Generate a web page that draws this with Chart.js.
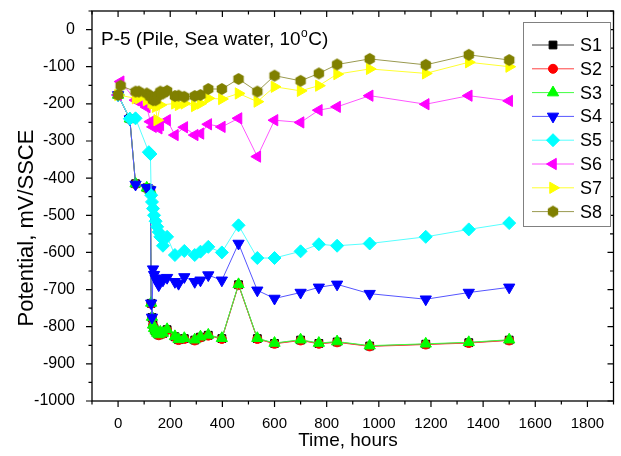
<!DOCTYPE html>
<html>
<head>
<meta charset="utf-8">
<script src="https://cdn.jsdelivr.net/npm/chart.js@4.4.0/dist/chart.umd.min.js"></script>
<style>
  html, body { margin: 0; padding: 0; background: #fff; }
  #wrap { width: 621px; height: 456px; }
</style>
</head>
<body>
<div id="wrap"><canvas id="potChart"></canvas></div>
<script>
// time, hours (shared by all series; null = no reading for that series)
var hours = [0, 10, 45, 67, 80, 110, 118, 124, 127, 130, 134, 138, 144, 150, 156, 162, 172, 188, 218, 232, 254, 294, 316, 346, 398, 462, 534, 600, 700, 770, 840, 965, 1180, 1345, 1500];

// potential, mV/SSCE
var s1 = [-176, null, -240, -415, null, -426, null, -432, -737, -775, -796, -805, -812, -818, -822, -815, -818, -808, -827, -835, -832, -836, -828, -823, -832, -687, -832, -845, -836, -845, -841, -852, -847, -843, -836];
var s2 = [-177, null, -241, -416, null, -427, null, -433, -738, -776, -797, -806, -813, -819, -823, -816, -819, -809, -828, -836, -833, -837, -829, -824, -833, -688, -833, -846, -837, -846, -842, -853, -848, -844, -837];
var s3 = [-176, null, -240, -415, null, -426, null, -432, -736, -774, -795, -804, -811, -817, -821, -814, -817, -807, -826, -834, -831, -835, -827, -822, -831, -686, -831, -844, -835, -844, -840, -851, -846, -842, -835];
var s4 = [-176, null, -241, -417, null, -426, null, -432, -737, -775, -645, -660, -670, -679, -688, -670, -675, -668, -679, -684, -666, -679, -675, -661, -675, -576, -702, -724, -708, -694, -686, -711, -726, -708, -694];
var s5 = [-176, null, -240, -239, null, null, -330, -335, -446, -464, -482, -500, -516, -531, -545, -558, -582, -558, -607, null, -596, -607, -598, -585, -600, -527, -615, -615, -597, -578, -582, -576, -558, -538, -521];
var s6 = [-176, -140, null, -190, -194, -209, null, -248, null, null, -262, null, null, null, -266, -257, null, -244, -284, null, -263, -284, -280, -255, -262, -239, -342, -244, -250, -217, -208, -178, -201, -178, -192];
var s7 = [-176, null, null, -185, -185, -190, null, null, -196, null, -200, null, -208, -244, null, -203, null, null, -199, -203, -199, -206, -199, -185, -187, -172, -194, -154, -165, -151, -120, -106, -118, -88, -100];
var s8 = [-176, -151, null, -167, -167, -172, null, -181, null, -181, -190, -185, -190, -180, -175, -167, -172, -165, -179, -178, -181, -179, -176, -160, -160, -133, -167, -124, -138, -118, -94, -79, -95, -68, -82];

var seriesNames = ['S1', 'S2', 'S3', 'S4', 'S5', 'S6', 'S7', 'S8'];
var xTickLabels = [0, 200, 400, 600, 800, 1000, 1200, 1400, 1600, 1800];
var yTickLabels = [0, -100, -200, -300, -400, -500, -600, -700, -800, -900, -1000];

var FONT = 'Arial, "Liberation Sans", sans-serif';

// hexagon marker for S8 (no built-in style)
function hexImage(r, color) {
  var c = document.createElement('canvas');
  var s = Math.ceil(r * 2) + 2;
  c.width = s; c.height = s;
  var g = c.getContext('2d');
  g.fillStyle = color;
  g.beginPath();
  for (var k = 0; k < 6; k++) {
    var a = Math.PI / 3 * k - Math.PI / 2;
    var px = s / 2 + r * Math.cos(a), py = s / 2 + r * Math.sin(a);
    if (k === 0) g.moveTo(px, py); else g.lineTo(px, py);
  }
  g.closePath();
  g.fill();
  return c;
}

function toPoints(vals) {
  return hours.map(function(h, i) { return { x: h, y: vals[i] }; });
}

var styles = [
  { line: '#404040', fill: '#000000', style: 'rect', rot: 0, r: 5.5 },
  { line: '#ff4040', fill: '#ff0000', style: 'circle', rot: 0, r: 4.5 },
  { line: '#40ff40', fill: '#00ff00', style: 'triangle', rot: 0, r: 6.5 },
  { line: '#5555ff', fill: '#0000ff', style: 'triangle', rot: 180, r: 6.5 },
  { line: '#55ffff', fill: '#00ffff', style: 'rectRot', rot: 0, r: 6.5 },
  { line: '#ff55ff', fill: '#ff00ff', style: 'triangle', rot: 270, r: 6.5 },
  { line: '#ffff30', fill: '#ffff00', style: 'triangle', rot: 90, r: 6.5 },
  { line: '#9a9a50', fill: '#808000', style: hexImage(6, '#808000'), rot: 0, r: 6 }
];

var allValues = [s1, s2, s3, s4, s5, s6, s7, s8];

var datasets = allValues.map(function(vals, i) {
  var st = styles[i];
  return {
    label: seriesNames[i],
    data: toPoints(vals),
    borderColor: st.line,
    borderWidth: 1,
    backgroundColor: st.fill,
    pointBackgroundColor: st.fill,
    pointBorderColor: st.fill,
    pointBorderWidth: 1,
    pointStyle: st.style,
    pointRotation: st.rot,
    pointRadius: st.r,
    spanGaps: true,
    tension: 0,
    order: 8 - i
  };
});

// frame, tick marks, titles and legend drawn on top of the scales
var decorations = {
  id: 'decorations',
  afterDraw: function(chart) {
    var ctx = chart.ctx;
    var a = chart.chartArea;
    var xs = chart.scales.x, ys = chart.scales.y;
    ctx.save();
    ctx.strokeStyle = '#000';
    ctx.lineWidth = 1.3;
    ctx.strokeRect(a.left, a.top, a.right - a.left, a.bottom - a.top);

    ctx.lineWidth = 1.2;
    ctx.beginPath();
    xs.ticks.forEach(function(t) {
      var px = xs.getPixelForValue(t.value);
      var len = xTickLabels.indexOf(t.value) >= 0 ? 6 : 3.5;
      ctx.moveTo(px, a.bottom); ctx.lineTo(px, a.bottom + len);
      ctx.moveTo(px, a.top); ctx.lineTo(px, a.top + len);
    });
    ys.ticks.forEach(function(t) {
      var py = ys.getPixelForValue(t.value);
      var len = yTickLabels.indexOf(t.value) >= 0 ? 6 : 3.5;
      ctx.moveTo(a.left, py); ctx.lineTo(a.left - len, py);
      ctx.moveTo(a.right, py); ctx.lineTo(a.right - len, py);
    });
    ctx.stroke();

    // plot title with superscript degree "o"
    ctx.fillStyle = '#000';
    ctx.textBaseline = 'alphabetic';
    ctx.textAlign = 'left';
    ctx.font = '19px ' + FONT;
    var tx = 101, ty = 45;
    var part1 = 'P-5 (Pile, Sea water, 10';
    ctx.fillText(part1, tx, ty);
    tx += ctx.measureText(part1).width;
    ctx.font = '12px ' + FONT;
    ctx.fillText('o', tx + 0.5, ty - 8);
    tx += ctx.measureText('o').width + 1;
    ctx.font = '19px ' + FONT;
    ctx.fillText('C)', tx, ty);

    // axis titles
    ctx.textAlign = 'center';
    ctx.textBaseline = 'middle';
    ctx.font = '19px ' + FONT;
    ctx.fillText('Time, hours', 348, 441);
    ctx.save();
    ctx.translate(27, 228);
    ctx.rotate(-Math.PI / 2);
    ctx.font = '22px ' + FONT;
    ctx.fillText('Potential, mV/SSCE', 0, 0);
    ctx.restore();

    // legend box
    var lx = 523, ly = 22, lw = 87, lh = 204;
    ctx.fillStyle = '#fff';
    ctx.fillRect(lx, ly, lw, lh);
    ctx.strokeStyle = '#808080';
    ctx.lineWidth = 1;
    ctx.strokeRect(lx + 0.5, ly + 0.5, lw, lh);
    chart.data.datasets.forEach(function(ds, i) {
      var ry = 45 + i * 23.8;
      ctx.strokeStyle = ds.borderColor;
      ctx.lineWidth = 1;
      ctx.beginPath();
      ctx.moveTo(532, ry); ctx.lineTo(574, ry);
      ctx.stroke();
      ctx.fillStyle = ds.pointBackgroundColor;
      ctx.strokeStyle = ds.pointBorderColor;
      if (Chart.helpers && Chart.helpers.drawPoint) {
        Chart.helpers.drawPoint(ctx, {
          pointStyle: ds.pointStyle, rotation: ds.pointRotation,
          radius: ds.pointRadius, borderWidth: 1
        }, 553, ry);
      }
      ctx.fillStyle = '#000';
      ctx.textAlign = 'left';
      ctx.textBaseline = 'middle';
      ctx.font = '18px ' + FONT;
      ctx.fillText(ds.label, 580, ry + 1);
    });
    ctx.restore();
  }
};

var potChart = new Chart(document.getElementById('potChart').getContext('2d'), {
  type: 'line',
  data: { datasets: datasets },
  options: {
    responsive: true,
    maintainAspectRatio: false,
    animation: false,
    layout: { padding: { left: 0, right: 2, top: 11, bottom: 0 } },
    plugins: { legend: { display: false }, tooltip: { enabled: false }, title: { display: false } },
    scales: {
      x: {
        type: 'linear',
        min: -100, max: 1900,
        grid: { display: false },
        border: { display: false },
        ticks: {
          stepSize: 100, autoSkip: false, maxRotation: 0, padding: 6,
          color: '#000', font: { family: FONT, size: 15 },
          callback: function(v) { return xTickLabels.indexOf(v) >= 0 ? String(v) : ''; }
        },
        afterFit: function(s) { s.height = 55; s.paddingLeft = 0; s.paddingRight = 0; }
      },
      y: {
        type: 'linear',
        min: -1000, max: 50,
        grid: { display: false },
        border: { display: false },
        ticks: {
          stepSize: 50, autoSkip: false, padding: 9,
          color: '#000', font: { family: FONT, size: 16 },
          callback: function(v) { return yTickLabels.indexOf(v) >= 0 ? String(v) : ''; }
        },
        afterFit: function(s) { s.width = 92; s.paddingTop = 0; s.paddingBottom = 0; }
      }
    }
  },
  plugins: [decorations]
});
</script>
</body>
</html>
